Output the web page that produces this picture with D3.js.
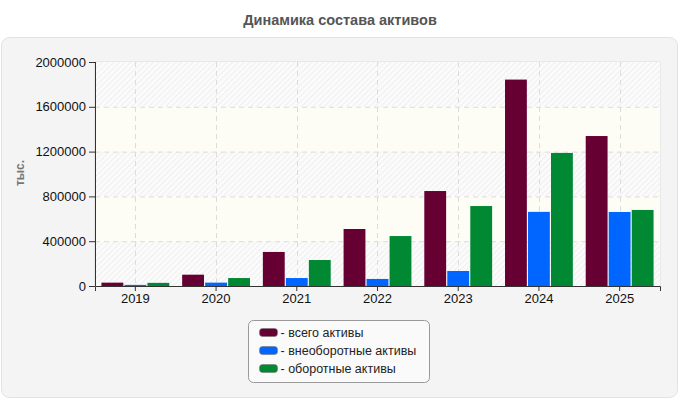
<!DOCTYPE html>
<html>
<head>
<meta charset="utf-8">
<script src="https://cdn.jsdelivr.net/npm/d3@7"></script>
<style>
  body { margin: 0; background: #fff; }
  svg { display: block; font-family: "Liberation Sans", Arial, sans-serif; }
</style>
</head>
<body>
<div class="chart"></div>
<script>
const years = ["2019", "2020", "2021", "2022", "2023", "2024", "2025"]
const seriesNames = ["всего активы", "внеоборотные активы", "оборотные активы"]
const totalAssets = [30000, 101000, 304000, 509000, 848000, 1843000, 1339000]
const fixedAssets = [10000, 30000, 71000, 63000, 134000, 662000, 661000]
const currentAssets = [28000, 71000, 232000, 446000, 714000, 1188000, 679000]
const yTicks = [0, 400000, 800000, 1200000, 1600000, 2000000]
const colors = ["#660033", "#0066ff", "#008833"]

const series = [totalAssets, fixedAssets, currentAssets]
const w = 680
const h = 400
const m = {left: 95, right: 20, top: 62, bottom: 114}

const svg = d3.select(".chart").append("svg").attr("width", w).attr("height", h)

// outer panel
svg.append("rect").attr("x", 1.5).attr("y", 37.5).attr("width", 676).attr("height", 360)
  .attr("rx", 8).attr("fill", "#f4f4f4").attr("stroke", "#e2e2e2")

svg.append("text").attr("x", 340).attr("y", 25).attr("text-anchor", "middle")
  .attr("font-size", 14.5).attr("font-weight", "bold").attr("fill", "#555")
  .text("Динамика состава активов")

const x = d3.scaleBand().domain(years).range([m.left, w - m.right]).paddingInner(0).paddingOuter(0)
const x1 = d3.scaleBand().domain(d3.range(3)).range([0, x.bandwidth()]).paddingOuter(0.28).paddingInner(0.05)
const y = d3.scaleLinear().domain([0, 2000000]).range([h - m.bottom, m.top])

// hatch pattern
const defs = svg.append("defs")
const pat = defs.append("pattern").attr("id", "hatch").attr("patternUnits", "userSpaceOnUse")
  .attr("width", 4).attr("height", 4).attr("patternTransform", "rotate(45)")
pat.append("rect").attr("width", 4).attr("height", 4).attr("fill", "#fbfbfb")
pat.append("line").attr("x1", 0).attr("y1", 0).attr("x2", 0).attr("y2", 4)
  .attr("stroke", "#ececec").attr("stroke-width", 1.5)

svg.append("rect").attr("x", m.left).attr("y", m.top).attr("width", w - m.left - m.right)
  .attr("height", h - m.top - m.bottom).attr("fill", "#fff").attr("stroke", "#dedede")

// alternating bands
svg.selectAll(".band").data(d3.pairs(yTicks)).enter().append("rect")
  .attr("x", m.left).attr("width", w - m.left - m.right)
  .attr("y", d => y(d[1])).attr("height", d => y(d[0]) - y(d[1]))
  .attr("fill", (d, i) => i % 2 === 0 ? "url(#hatch)" : "#fdfdf6")

// grid
svg.append("g").selectAll("line").data(yTicks.slice(1, -1)).enter().append("line")
  .attr("x1", m.left).attr("x2", w - m.right).attr("y1", d => y(d) + 0.5).attr("y2", d => y(d) + 0.5)
  .attr("stroke", "#dcdcdc").attr("stroke-dasharray", "5,4")
svg.append("g").selectAll("line").data(years).enter().append("line")
  .attr("x1", d => Math.round(x(d) + x.bandwidth() / 2) + 0.5).attr("x2", d => Math.round(x(d) + x.bandwidth() / 2) + 0.5)
  .attr("y1", m.top).attr("y2", h - m.bottom)
  .attr("stroke", "#dcdcdc").attr("stroke-dasharray", "5,4")

// bars
const groups = svg.append("g").selectAll("g").data(years).enter().append("g")
  .attr("transform", d => `translate(${x(d)},0)`)
groups.selectAll("rect").data((d, i) => series.map((s, k) => ({k, v: s[i]}))).enter().append("rect")
  .attr("x", d => x1(d.k)).attr("width", x1.bandwidth())
  .attr("y", d => y(d.v)).attr("height", d => y(0) - y(d.v))
  .attr("fill", d => colors[d.k])

// axes
const yAxis = d3.axisLeft(y).tickValues(yTicks).tickFormat(d3.format("d")).tickSize(6).tickPadding(3)
const xAxis = d3.axisBottom(x).tickSize(5).tickPadding(3)
const gy = svg.append("g").attr("transform", `translate(${m.left},0)`).call(yAxis)
const gx = svg.append("g").attr("transform", `translate(0,${h - m.bottom})`).call(xAxis)
;[gx, gy].forEach(g => {
  g.select(".domain").attr("stroke", "#333")
  g.selectAll(".tick line").attr("stroke", "#333")
  g.selectAll("text").attr("font-size", 13).attr("fill", "#111").attr("font-family", "Liberation Sans, Arial, sans-serif")
})
gy.select(".domain").attr("d", `M0.5,${m.top}V${h - m.bottom}`)

svg.append("text").attr("transform", `translate(24,173) rotate(-90)`).attr("text-anchor", "middle")
  .attr("font-size", 12).attr("font-weight", "bold").attr("fill", "#777").text("тыс.")

// legend
const lg = svg.append("g").attr("transform", "translate(248.5,320.5)")
lg.append("rect").attr("width", 181).attr("height", 62).attr("rx", 5)
  .attr("fill", "#fafafa").attr("stroke", "#999")
const items = lg.selectAll(".item").data(seriesNames).enter().append("g")
  .attr("transform", (d, i) => `translate(11,${8 + i * 18})`)
items.append("rect").attr("width", 18).attr("height", 8).attr("rx", 3)
  .attr("fill", (d, i) => colors[i]).attr("stroke", "#777").attr("stroke-width", 0.6)
items.append("text").attr("x", 21).attr("y", 8.5).attr("font-size", 12.5).attr("fill", "#222")
  .text(d => "- " + d)
</script>
</body>
</html>
